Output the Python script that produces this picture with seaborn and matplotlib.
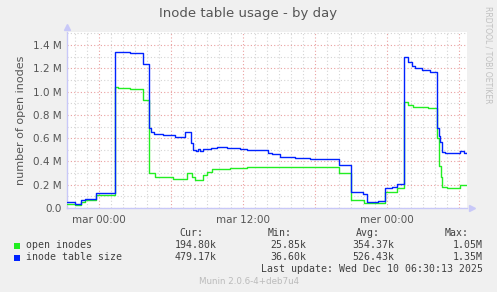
import matplotlib
matplotlib.use("Agg")
import matplotlib.pyplot as plt
from matplotlib.patches import Rectangle
import seaborn as sns
import pandas as pd
import numpy as np

# ---- data (hours relative to "mar 00:00", values in millions) ----
blue_hours = [-2.69, -2.03, -1.53, -1.19, -0.28, 1.27, 1.73, 2.56, 3.64, 4.14, 4.31, 4.56,
              5.31, 6.31, 7.14, 7.68, 7.81, 8.06, 8.23, 8.39, 8.64, 8.98, 9.31, 9.81,
              10.39, 10.64, 11.31, 11.73, 12.31, 14.06, 14.39, 15.06, 16.31, 17.56,
              19.98, 20.98, 21.98, 22.31, 22.98, 23.23, 23.77, 24.39, 24.81, 25.39,
              25.73, 26.06, 26.31, 26.89, 27.56, 28.18, 28.31, 28.43, 28.56, 28.81,
              30.06, 30.39, 30.64]
blue_vals = [0.054, 0.037, 0.066, 0.077, 0.126, 1.343, 1.337, 1.329, 1.234, 0.687, 0.656, 0.640,
             0.627, 0.613, 0.656, 0.560, 0.498, 0.490, 0.505, 0.492, 0.510, 0.505, 0.515, 0.527,
             0.520, 0.513, 0.518, 0.510, 0.498, 0.475, 0.465, 0.440, 0.427, 0.418,
             0.369, 0.135, 0.118, 0.054, 0.050, 0.056, 0.169, 0.183, 0.203, 1.295,
             1.257, 1.222, 1.200, 1.186, 1.165, 0.687, 0.620, 0.570, 0.484, 0.470,
             0.490, 0.476, 0.479]

green_hours = [-2.69, -2.03, -1.53, -1.19, -0.28, 1.27, 1.56, 2.56, 3.64, 4.18, 4.64,
               6.14, 7.31, 7.73, 7.98, 8.64, 8.98, 9.39, 10.89, 12.31, 19.98, 20.98,
               22.06, 22.31, 23.77, 24.81, 25.39, 25.73, 26.14, 27.39, 28.18, 28.31,
               28.48, 28.56, 28.98, 30.06, 30.64]
green_vals = [0.032, 0.026, 0.049, 0.069, 0.112, 1.037, 1.028, 1.022, 0.928, 0.298, 0.270,
              0.249, 0.298, 0.270, 0.240, 0.284, 0.312, 0.332, 0.340, 0.350, 0.303, 0.070,
              0.046, 0.040, 0.140, 0.175, 0.908, 0.885, 0.870, 0.862, 0.600, 0.360,
              0.270, 0.183, 0.169, 0.198, 0.195]

series_names = ["open inodes", "inode table size"]
series_colors = ["#22ee22", "#0022ff"]
stat_headers = ["Cur:", "Min:", "Avg:", "Max:"]
stats_open = ["194.80k", "25.85k", "354.37k", "1.05M"]
stats_table = ["479.17k", "36.60k", "526.43k", "1.35M"]

x_tick_hours = [0, 6, 12, 18, 24, 30]
x_tick_labels = ["mar 00:00", "", "mar 12:00", "", "mer 00:00", ""]
y_ticks = [0.0, 0.2, 0.4, 0.6, 0.8, 1.0, 1.2, 1.4]
y_tick_labels = ["0.0", "0.2 M", "0.4 M", "0.6 M", "0.8 M", "1.0 M", "1.2 M", "1.4 M"]

# ---- figure ----
sns.set_theme(style="white")
plt.rcParams["font.family"] = ["DejaVu Sans"]

W, H = 497, 292
fig = plt.figure(figsize=(W / 100, H / 100), dpi=100, facecolor="#f0f0f0")
ax = fig.add_axes([67 / W, 1 - 208 / H, 400 / W, 176 / H])
ax.set_facecolor("white")

df_g = pd.DataFrame({"h": green_hours, "v": green_vals})
df_b = pd.DataFrame({"h": blue_hours, "v": blue_vals})
sns.lineplot(data=df_g, x="h", y="v", ax=ax, color=series_colors[0], lw=1.0,
             drawstyle="steps-post", estimator=None, sort=False, zorder=3)
sns.lineplot(data=df_b, x="h", y="v", ax=ax, color=series_colors[1], lw=1.0,
             drawstyle="steps-post", estimator=None, sort=False, zorder=4)

ax.set_xlim(-2.69, 30.64)
ax.set_ylim(0, 1.512)

ax.set_xticks(x_tick_hours)
ax.set_xticklabels(x_tick_labels)
ax.set_xticks(np.arange(-2, 31, 1), minor=True)
ax.set_yticks(y_ticks)
ax.set_yticklabels(y_tick_labels)
ax.set_yticks(np.arange(0.1, 1.55, 0.2), minor=True)

ax.grid(False)
ax.grid(which="minor", color="#d4d4d4", linestyle=(0, (1, 2)), linewidth=0.8)
ax.grid(which="major", color="#eaa0a0", linestyle=(0, (1, 2)), linewidth=0.8)
ax.set_axisbelow(True)

ax.tick_params(axis="both", which="major", labelsize=7.5, labelcolor="#555555",
               length=2, color="#c0c0c0", pad=2)
ax.tick_params(axis="both", which="minor", length=1.5, color="#c0c0c0")
ax.tick_params(axis="x", pad=3)
ax.set_xlabel("")
ax.set_ylabel("number of open inodes", fontsize=8, color="#555555", labelpad=5)

for s in ["top", "right"]:
    ax.spines[s].set_visible(False)
for s in ["left", "bottom"]:
    ax.spines[s].set_color("#c8c8f8")
    ax.spines[s].set_linewidth(1.0)

# axis arrows
ax.plot([1.0 + 5 / 400], [0], marker=">", ms=4, color="#c8c8f8",
        transform=ax.transAxes, clip_on=False)
ax.plot([0], [1.0 + 5 / 176], marker="^", ms=4, color="#c8c8f8",
        transform=ax.transAxes, clip_on=False)

def fx(px):
    return px / W

def fy(py):
    return 1 - py / H

fig.text(fx(248), fy(14), "Inode table usage - by day", ha="center", va="center",
         fontsize=9.5, color="#555555")
fig.text(fx(488), fy(6), "RRDTOOL / TOBI OETIKER", ha="center", va="top",
         rotation=270, fontsize=5.5, color="#c0c0c0")

mono = "DejaVu Sans Mono"
tc = "#404040"
fs = 7.1
header_right = [203, 292, 380, 469]
value_right = [217, 306, 394, 483]
for hdr, xr in zip(stat_headers, header_right):
    fig.text(fx(xr), fy(233), hdr, ha="right", va="center", family=mono, fontsize=fs, color=tc)

rows = [(245.5, stats_open), (257.5, stats_table)]
for (yy, vals), name, col in zip(rows, series_names, series_colors):
    fig.add_artist(Rectangle((fx(14), fy(yy + 3)), 6 / W, 6 / H, transform=fig.transFigure,
                             facecolor=col, edgecolor="none"))
    fig.text(fx(26.5), fy(yy), name, ha="left", va="center", family=mono, fontsize=fs, color=tc)
    for v, xr in zip(vals, value_right):
        fig.text(fx(xr), fy(yy), v, ha="right", va="center", family=mono, fontsize=fs, color=tc)

fig.text(fx(483), fy(269.5), "Last update: Wed Dec 10 06:30:13 2025", ha="right", va="center",
         family=mono, fontsize=fs, color=tc)
fig.text(fx(249), fy(281), "Munin 2.0.6-4+deb7u4", ha="center", va="center",
         fontsize=6.3, color="#bbbbbb")

fig.savefig("out.png", dpi=100, facecolor=fig.get_facecolor())
